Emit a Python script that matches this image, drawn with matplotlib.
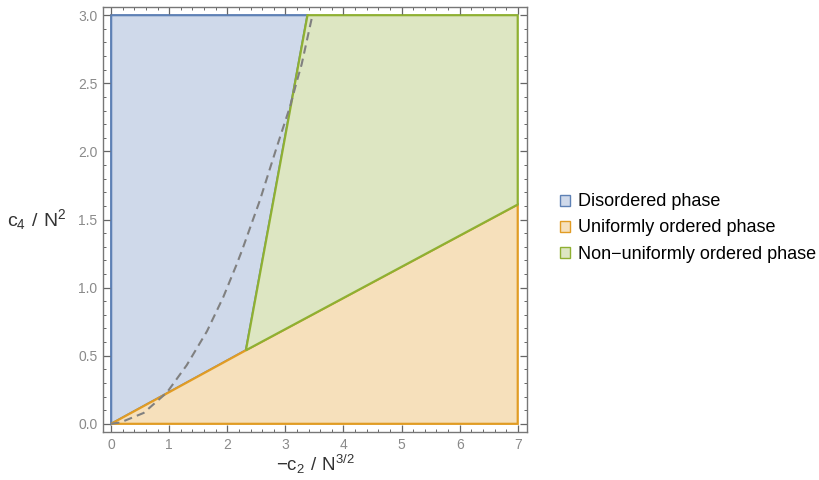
import matplotlib.pyplot as plt
from matplotlib.patches import Polygon, Patch
from matplotlib.ticker import MultipleLocator, FormatStrFormatter

plt.rcParams['font.family'] = ['Liberation Sans', 'DejaVu Sans']
plt.rcParams['mathtext.fontset'] = 'custom'
plt.rcParams['mathtext.rm'] = 'Liberation Sans'

# phase regions (corners)
disordered = [(0, 0), (0, 3), (3.38, 3), (2.32, 0.54)]
uniform = [(0, 0), (2.32, 0.54), (7, 1.61), (7, 0)]
nonuniform = [(2.32, 0.54), (3.38, 3), (7, 3), (7, 1.61)]

# dashed boundary curve
dash_x = [0, 0.16, 0.56, 0.96, 1.30, 1.65, 1.93, 2.16, 2.25, 2.56, 2.85, 3.08, 3.20, 3.28, 3.46]
dash_y = [0, 0.01, 0.08, 0.23, 0.43, 0.68, 0.93, 1.17, 1.27, 1.64, 2.03, 2.33, 2.52, 2.64, 2.99]

labels = ['Disordered phase', 'Uniformly ordered phase', 'Non\u2212uniformly ordered phase']
edges = ['#5e81b5', '#e19c24', '#8fb032']
fills = ['#cfd9ea', '#f6e0bb', '#dde6c2']

fig = plt.figure(figsize=(8.19, 4.8), dpi=100)
ax = fig.add_axes([0.1258, 0.1, 0.5177, 0.8854])

for poly, fc, ec in zip([disordered, uniform, nonuniform], fills, edges):
    ax.add_patch(Polygon(poly, closed=True, facecolor=fc, edgecolor=ec, linewidth=1.6, joinstyle='miter'))

ax.plot(dash_x, dash_y, color='#808080', linestyle=(0, (4, 2.5)), linewidth=1.5, zorder=5)

ax.set_xlim(-0.14, 7.16)
ax.set_ylim(-0.06, 3.06)

ax.xaxis.set_major_locator(MultipleLocator(1))
ax.xaxis.set_minor_locator(MultipleLocator(0.2))
ax.yaxis.set_major_locator(MultipleLocator(0.5))
ax.yaxis.set_minor_locator(MultipleLocator(0.1))
ax.yaxis.set_major_formatter(FormatStrFormatter('%.1f'))

ax.tick_params(which='both', direction='in', top=True, right=True, color='#666666',
               labelcolor='#8a8a8a', labelsize=10, pad=4)
ax.tick_params(which='major', length=5, width=0.9)
ax.tick_params(which='minor', length=2.5, width=0.7)
for s in ax.spines.values():
    s.set_color('#777777')
    s.set_linewidth(1.0)

ax.set_xlabel(r'$\mathregular{-c_2\ /\ N^{3/2}}$', fontsize=13.5, color='#333333', labelpad=1)
ax.set_ylabel(r'$\mathregular{c_4\ /\ N^2}$', fontsize=14, color='#333333', rotation=0,
              labelpad=30, va='center')

handles = [Patch(facecolor=fc, edgecolor=ec, linewidth=1.0) for fc, ec in zip(fills, edges)]
fig.legend(handles, labels, loc='center left', bbox_to_anchor=(0.673, 0.525), frameon=False,
           borderpad=0, fontsize=13, handlelength=0.55, handleheight=0.55, handletextpad=0.45,
           labelspacing=0.5)

fig.savefig('out.png', dpi=100)
